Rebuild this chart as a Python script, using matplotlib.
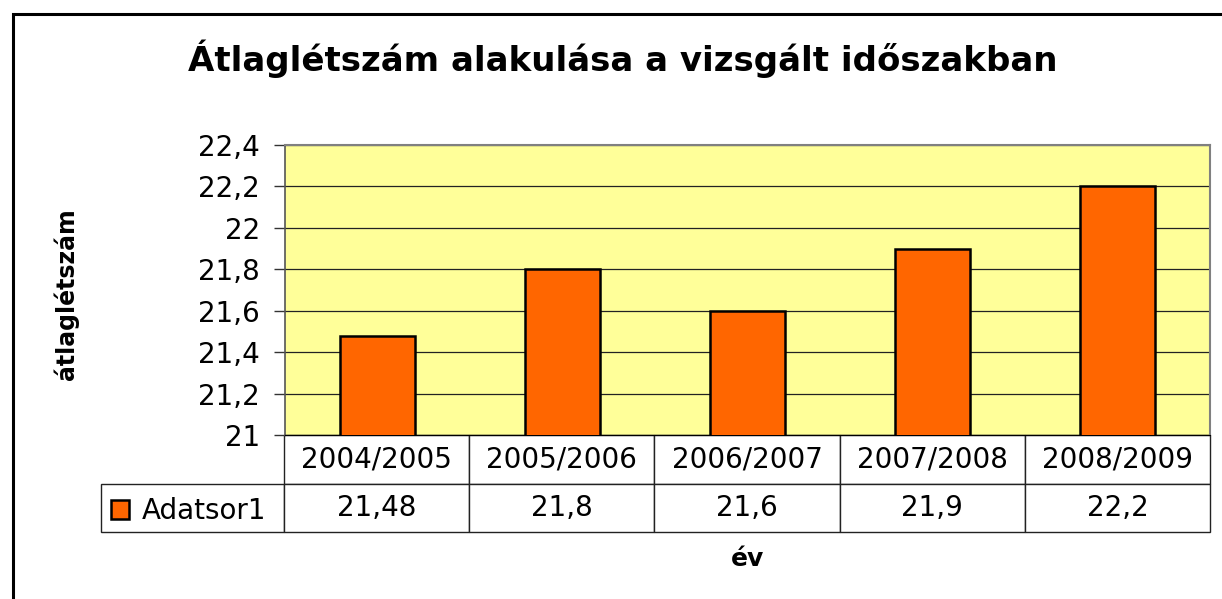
import matplotlib.pyplot as plt
from matplotlib.patches import Rectangle
from matplotlib.ticker import FuncFormatter

W, H = 1222, 599

categories = ['2004/2005', '2005/2006', '2006/2007', '2007/2008', '2008/2009']
values = [21.48, 21.8, 21.6, 21.9, 22.2]
series_name = 'Adatsor1'
y_ticks = [21, 21.2, 21.4, 21.6, 21.8, 22, 22.2, 22.4]


def hu(v):
    return f"{v:g}".replace('.', ',')


plt.rcParams['font.family'] = ['DejaVu Sans']

fig = plt.figure(figsize=(W / 100, H / 100), dpi=100)

# outer chart frame (right and bottom edges run off the picture)
frame = Rectangle((12.5 / W, -0.2), 1.3, 1 - 14.5 / H + 0.2, transform=fig.transFigure,
                  fill=False, ec='black', lw=2.2)
fig.patches.append(frame)

ax = fig.add_axes([285 / W, 1 - 435 / H, 925 / W, 290 / H])
ax.set_facecolor('#FFFF99')

x = range(len(categories))
bars = ax.bar(x, values, width=0.41, color='#FF6600', edgecolor='black', lw=1.8,
              zorder=3, label=series_name)

ax.set_xlim(-0.5, len(categories) - 0.5)
ax.set_ylim(21, 22.4)
ax.set_yticks(y_ticks)
ax.yaxis.set_major_formatter(FuncFormatter(lambda v, p: hu(round(v, 1))))
ax.tick_params(axis='y', labelsize=20, length=8, width=1, pad=10, color='#333333')
ax.set_xticks([])
ax.set_axisbelow(True)
ax.yaxis.grid(True, color='#222222', lw=0.9)
for s in ['top', 'right']:
    ax.spines[s].set_color('#808080')
    ax.spines[s].set_linewidth(1.5)
ax.spines['left'].set_color('#555555')
ax.spines['left'].set_linewidth(1.2)

# data table under the plot: first column holds the legend key
tbl = ax.table(cellText=[[''] + [hu(v) for v in values]], colLabels=[''] + categories,
               colWidths=[0.2 * 183 / 185] + [0.2] * len(categories),
               cellLoc='center',
               bbox=[(101 - 285) / 925, -(532 - 435) / 290, (1210 - 101) / 925, 97 / 290])
tbl.auto_set_font_size(False)
tbl.set_fontsize(20)
for cell in tbl.get_celld().values():
    cell.set_edgecolor('#222222')
    cell.set_linewidth(1.0)
    cell.set_facecolor('white')
tbl[0, 0].set_visible(False)

# legend key inside the first cell of the values row
ax.legend(handles=[bars[0]], labels=[series_name], loc='center left',
          bbox_to_anchor=(111 / W, 1 - 511 / H), bbox_transform=fig.transFigure,
          frameon=False, fontsize=20, handlelength=0.65, handleheight=0.65,
          handletextpad=0.45, borderpad=0, borderaxespad=0)

fig.text(623 / W, 1 - 71 / H, 'Átlaglétszám alakulása a vizsgált időszakban',
         ha='center', va='baseline', fontsize=24.5, fontweight='bold')
fig.text(66 / W, 1 - 294 / H, 'átlaglétszám', rotation=90, ha='center', va='center',
         fontsize=17, fontweight='bold')
fig.text(748 / W, 1 - 566 / H, 'év', ha='center', va='baseline', fontsize=18,
         fontweight='bold')

fig.savefig('out.png', dpi=100)
